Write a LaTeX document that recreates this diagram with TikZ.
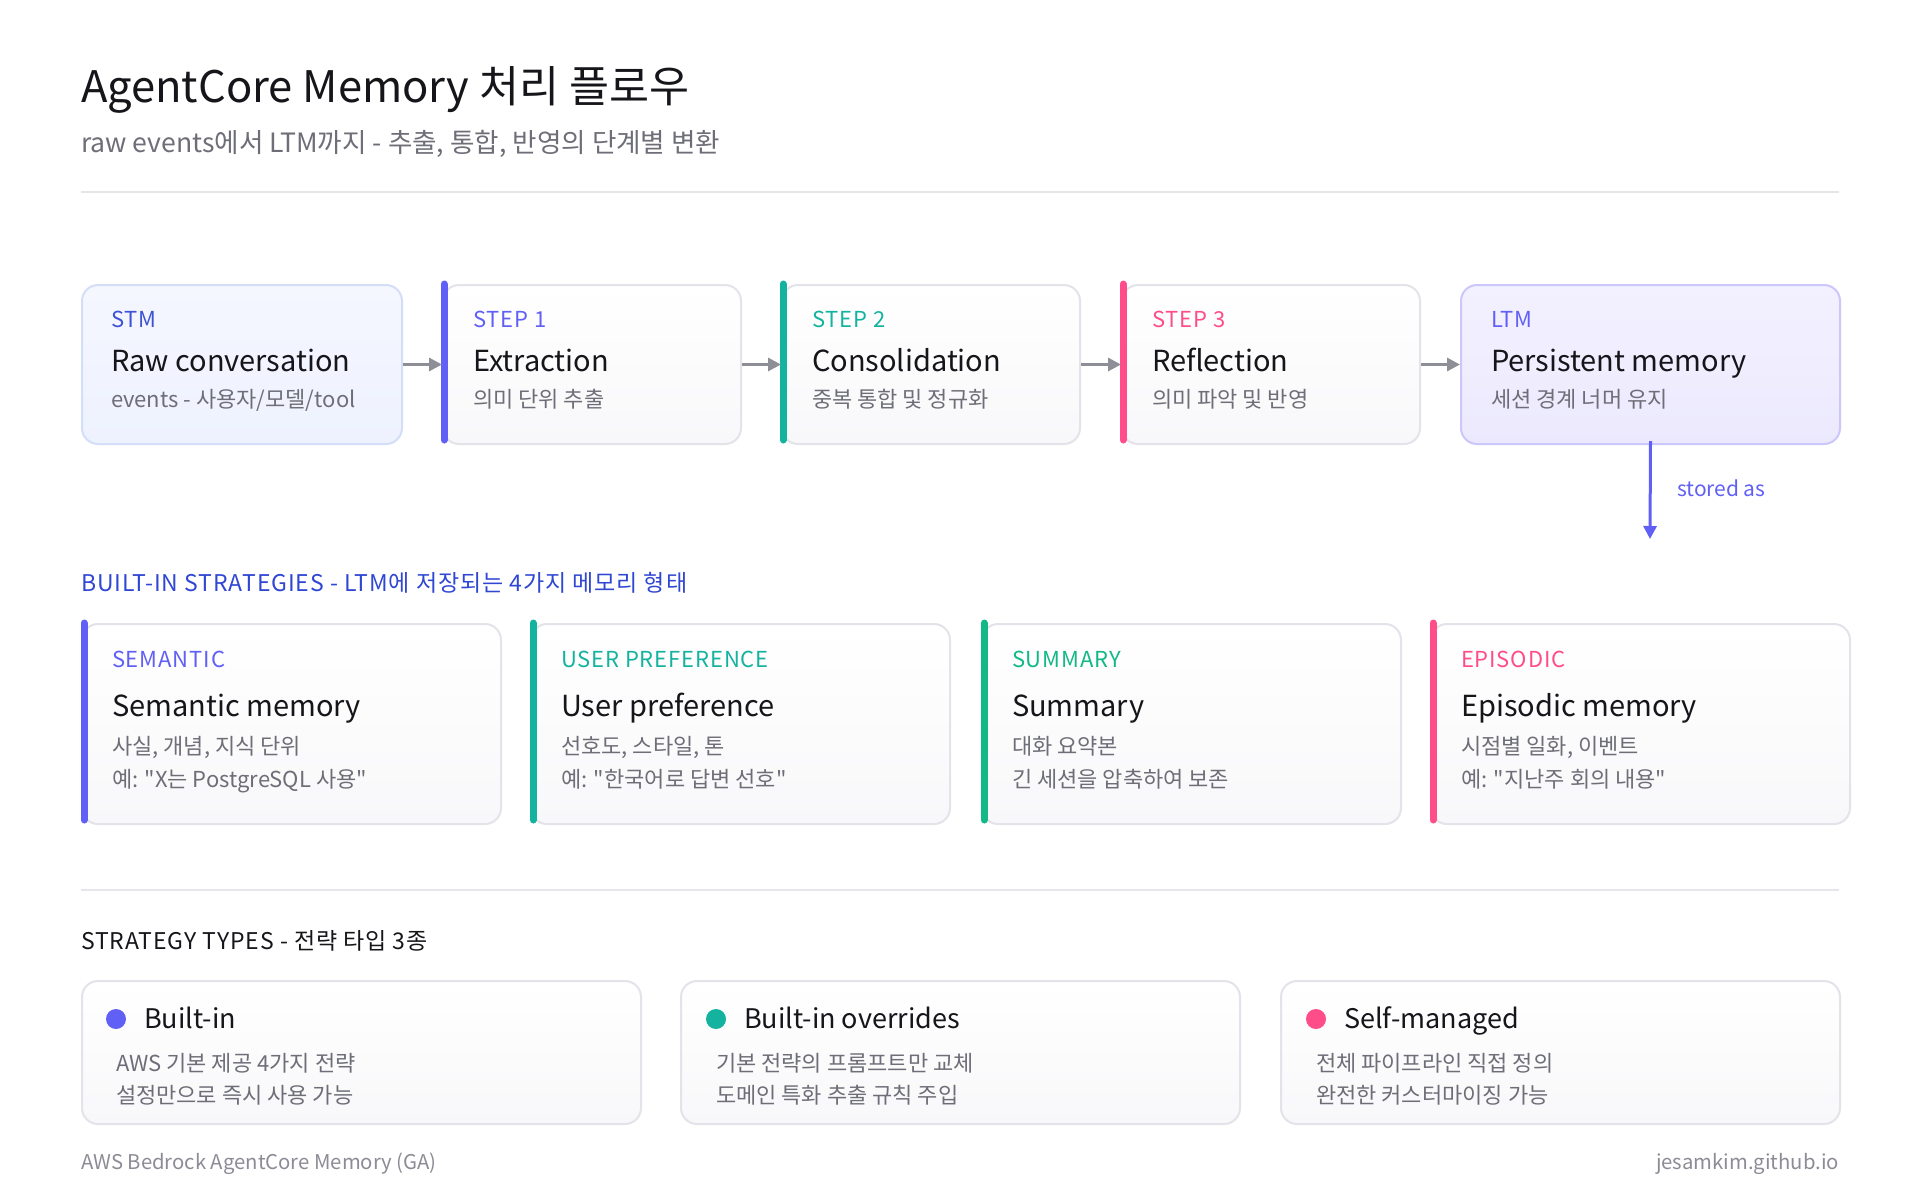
\documentclass[tikz,border=0pt]{standalone}
\usepackage{fontspec}
\setmainfont{Noto Sans CJK KR}[Ligatures=TeXOff]
\newfontfamily\trackfont[LetterSpace=4,Ligatures=TeXOff]{Noto Sans CJK KR}
\usetikzlibrary{arrows.meta,positioning}
\definecolor{ink}{HTML}{15151A}
\definecolor{muted}{HTML}{6E6E78}
\definecolor{faint}{HTML}{8C8C96}
\definecolor{cardline}{HTML}{E3E3E9}
\definecolor{cardbot}{HTML}{F8F8FA}
\definecolor{rulegray}{HTML}{E6E6EA}
\definecolor{arrowgray}{HTML}{8E8E96}
\definecolor{accblue}{HTML}{6160F6}
\definecolor{stmblue}{HTML}{3D52D5}
\definecolor{headblue}{HTML}{3047D4}
\definecolor{accteal}{HTML}{14B3A0}
\definecolor{accgreen}{HTML}{12B886}
\definecolor{accpink}{HTML}{FF4D8A}
\definecolor{stmtop}{HTML}{F5F7FF}
\definecolor{stmbot}{HTML}{EEF2FE}
\definecolor{stmline}{HTML}{D5DEF7}
\definecolor{ltmtop}{HTML}{F3F1FF}
\definecolor{ltmbot}{HTML}{ECE9FE}
\definecolor{ltmline}{HTML}{CBC6FB}
\tikzset{
  txt/.style={anchor=base west,inner sep=0pt,outer sep=0pt},
  lab/.style={txt,font=\trackfont\fontsize{22}{26}\selectfont},
  head/.style={txt,font=\fontsize{29}{35}\selectfont,text=ink},
  desc/.style={txt,font=\fontsize{22}{26}\selectfont,text=muted},
  card/.style={draw=cardline,line width=2pt,rounded corners=16pt,top color=white,bottom color=cardbot,anchor=north west,inner sep=0pt},
  stmbox/.style={card,draw=stmline,top color=stmtop,bottom color=stmbot},
  ltmbox/.style={card,draw=ltmline,top color=ltmtop,bottom color=ltmbot},
  stepcard/.style={card,minimum width=298pt,minimum height=159pt},
  stratcard/.style={card,minimum width=419pt,minimum height=200pt},
  typecard/.style={card,minimum width=559pt,minimum height=143pt},
  accbar/.style={draw=#1,line width=7pt,line cap=round},
  flow/.style={draw=arrowgray,line width=3pt,-{Triangle[length=13pt,width=13pt]}},
  rule/.style={draw=rulegray,line width=2pt},
  dot/.style={circle,fill=#1,minimum size=20pt,inner sep=0pt}
}
\begin{document}
\begin{tikzpicture}[x=1pt,y=-1pt]
\useasboundingbox[fill=white] (0,0) rectangle (1920,1200);

% header
\node[txt,font=\fontsize{43.5}{50}\selectfont,text=ink] (title) at (81,102) {AgentCore Memory 처리 플로우};
\node[txt,font=\fontsize{26.6}{31}\selectfont,text=muted] (subtitle) at (81,152) {raw events에서 LTM까지 - 추출, 통합, 반영의 단계별 변환};
\draw[rule] (81,192) -- (1839,192);

% pipeline
\node[stmbox,minimum width=320pt,minimum height=159pt] (stm) at (81,284) {};
\node[stepcard] (s1) at (442,284) {};
\node[stepcard] (s2) at (781,284) {};
\node[stepcard] (s3) at (1121,284) {};
\node[ltmbox,minimum width=379pt,minimum height=159pt] (ltm) at (1460,284) {};
\draw[accbar=accblue] ([xshift=2pt]s1.north west) -- ([xshift=2pt,yshift=5pt]s1.south west);
\draw[accbar=accteal] ([xshift=2pt]s2.north west) -- ([xshift=2pt,yshift=5pt]s2.south west);
\draw[accbar=accpink] ([xshift=2pt]s3.north west) -- ([xshift=2pt,yshift=5pt]s3.south west);

\node[lab,text=stmblue] (stmlab) at (111,327) {STM};
\node[head] (stmhead) at (111,371) {Raw conversation};
\node[desc] (stmdesc) at (111,407) {events - 사용자/모델/tool};
\node[lab,text=accblue] (s1lab) at (473,327) {STEP 1};
\node[head] (s1head) at (473,371) {Extraction};
\node[desc] (s1desc) at (473,407) {의미 단위 추출};
\node[lab,text=accteal] (s2lab) at (812,327) {STEP 2};
\node[head] (s2head) at (812,371) {Consolidation};
\node[desc] (s2desc) at (812,407) {중복 통합 및 정규화};
\node[lab,text=accpink] (s3lab) at (1152,327) {STEP 3};
\node[head] (s3head) at (1152,371) {Reflection};
\node[desc] (s3desc) at (1152,407) {의미 파악 및 반영};
\node[lab,text=accblue] (ltmlab) at (1491,327) {LTM};
\node[head] (ltmhead) at (1491,371) {Persistent memory};
\node[desc] (ltmdesc) at (1491,407) {세션 경계 너머 유지};

\draw[flow] (stm.east) -- (s1.west);
\draw[flow] (s1.east) -- (s2.west);
\draw[flow] (s2.east) -- (s3.west);
\draw[flow] (s3.east) -- (ltm.west);

\coordinate (ltmend) at (1650,539);
\draw[flow,draw=accblue] ([yshift=4pt]ltm.south) -- (ltmend);
\node[txt,font=\fontsize{21}{25}\selectfont,text=accblue] (storedas) at (1677,496) {stored as};

% built-in strategies
\node[lab,font=\trackfont\fontsize{23}{27}\selectfont,text=headblue] (stratlab) at (81,591) {BUILT-IN STRATEGIES - LTM에 저장되는 4가지 메모리 형태};
\node[stratcard] (sem) at (81,623) {};
\node[stratcard] (pref) at (530,623) {};
\node[stratcard] (summ) at (981,623) {};
\node[stratcard] (epi) at (1430,623) {};
\draw[accbar=accblue] ([xshift=3pt]sem.north west) -- ([xshift=3pt,yshift=5pt]sem.south west);
\draw[accbar=accteal] ([xshift=3pt]pref.north west) -- ([xshift=3pt,yshift=5pt]pref.south west);
\draw[accbar=accgreen] ([xshift=3pt]summ.north west) -- ([xshift=3pt,yshift=5pt]summ.south west);
\draw[accbar=accpink] ([xshift=3pt]epi.north west) -- ([xshift=3pt,yshift=5pt]epi.south west);

\node[lab,text=accblue] (semlab) at (112,667) {SEMANTIC};
\node[head] (semhead) at (112,716) {Semantic memory};
\node[desc] (semdesc) at (112,754) {사실, 개념, 지식 단위};
\node[desc] (semex) at (112,787) {예: "X는 PostgreSQL 사용"};
\node[lab,text=accteal] (preflab) at (561,667) {USER PREFERENCE};
\node[head] (prefhead) at (561,716) {User preference};
\node[desc] (prefdesc) at (561,754) {선호도, 스타일, 톤};
\node[desc] (prefex) at (561,787) {예: "한국어로 답변 선호"};
\node[lab,text=accgreen] (summlab) at (1012,667) {SUMMARY};
\node[head] (summhead) at (1012,716) {Summary};
\node[desc] (summdesc) at (1012,754) {대화 요약본};
\node[desc] (summex) at (1012,787) {긴 세션을 압축하여 보존};
\node[lab,text=accpink] (epilab) at (1461,667) {EPISODIC};
\node[head] (epihead) at (1461,716) {Episodic memory};
\node[desc] (epidesc) at (1461,754) {시점별 일화, 이벤트};
\node[desc] (epiex) at (1461,787) {예: "지난주 회의 내용"};

\draw[rule] (81,890) -- (1839,890);

% strategy types
\node[lab,font=\trackfont\fontsize{23}{27}\selectfont,text=ink] (typelab) at (81,949) {STRATEGY TYPES - 전략 타입 3종};
\node[typecard] (tbuilt) at (81,980) {};
\node[typecard] (tover) at (680,980) {};
\node[typecard] (tself) at (1280,980) {};

\node[dot=accblue] (tbuiltdot) at (116,1019) {};
\node[txt,font=\fontsize{27}{32}\selectfont,text=ink] (tbuilthead) at (144,1028) {Built-in};
\node[desc] (tbuilt1) at (116,1071) {AWS 기본 제공 4가지 전략};
\node[desc] (tbuilt2) at (116,1103) {설정만으로 즉시 사용 가능};
\node[dot=accteal] (toverdot) at (716,1019) {};
\node[txt,font=\fontsize{27}{32}\selectfont,text=ink] (toverhead) at (744,1028) {Built-in overrides};
\node[desc] (tover1) at (716,1071) {기본 전략의 프롬프트만 교체};
\node[desc] (tover2) at (716,1103) {도메인 특화 추출 규칙 주입};
\node[dot=accpink] (tselfdot) at (1316,1019) {};
\node[txt,font=\fontsize{27}{32}\selectfont,text=ink] (tselfhead) at (1344,1028) {Self-managed};
\node[desc] (tself1) at (1316,1071) {전체 파이프라인 직접 정의};
\node[desc] (tself2) at (1316,1103) {완전한 커스터마이징 가능};

% footer
\node[txt,font=\fontsize{20.3}{24}\selectfont,text=faint] (footl) at (81,1169) {AWS Bedrock AgentCore Memory (GA)};
\node[txt,anchor=base east,font=\fontsize{20.3}{24}\selectfont,text=faint] (footr) at (1839,1169) {jesamkim.github.io};
\end{tikzpicture}
\end{document}
